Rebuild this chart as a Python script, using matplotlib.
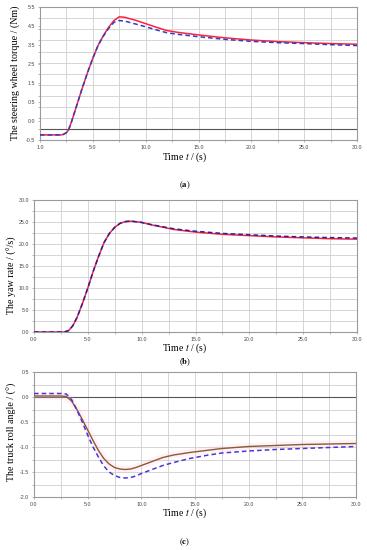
import numpy as np
import matplotlib
matplotlib.use("Agg")
import matplotlib.pyplot as plt

plt.rcParams['mathtext.fontset'] = 'stix'

# ---------------- data ----------------
# Panel (a): steering wheel torque (Nm)
t_a = [0, 2.0, 2.2, 2.5, 2.7, 3.0, 3.3, 3.6, 4.0, 4.5, 5.0, 5.5, 6.0, 6.5, 7.0, 7.5,
       8.0, 9.0, 10.0, 11.0, 12.0, 13.0, 15.0, 17.5, 20.0, 22.5, 25.0, 27.5, 30.0]
torque_red = [-0.27, -0.27, -0.25, -0.17, -0.05, 0.35, 0.8, 1.25, 1.85, 2.55, 3.2, 3.78,
              4.22, 4.6, 4.9, 5.07, 5.05, 4.92, 4.76, 4.6, 4.45, 4.37, 4.25, 4.12, 4.02,
              3.95, 3.9, 3.86, 3.83]
torque_blue = [-0.27, -0.27, -0.25, -0.17, -0.05, 0.35, 0.8, 1.25, 1.85, 2.55, 3.2, 3.78,
               4.2, 4.55, 4.82, 4.9, 4.88, 4.75, 4.62, 4.48, 4.35, 4.28, 4.17, 4.05, 3.96,
               3.9, 3.86, 3.81, 3.77]
ytick_labels_a = ["-0.5", "0.0", "0.5", "1.5", "2.5", "3.5", "4.5", "5.5"]
xtick_labels_a = ["1.0", "5.0", "10.0", "15.0", "20.0", "25.0", "30.0"]

# Panel (b): yaw rate (deg/s)
t_b = [0, 2.8, 3.2, 3.6, 4.0, 4.5, 5.0, 5.5, 6.0, 6.5, 7.0, 7.5, 8.0, 8.5, 9.0, 10.0,
       11.0, 12.0, 13.0, 14.0, 15.0, 17.5, 20.0, 22.5, 25.0, 27.5, 30.0]
yaw_red = [0, 0, 0.3, 1.4, 3.3, 6.5, 10.0, 13.8, 17.2, 20.3, 22.4, 23.8, 24.7, 25.1, 25.2,
           24.9, 24.3, 23.8, 23.3, 23.0, 22.7, 22.2, 21.9, 21.6, 21.4, 21.2, 21.1]
yaw_blue = [0, 0, 0.3, 1.4, 3.3, 6.5, 10.0, 13.8, 17.2, 20.3, 22.4, 23.8, 24.7, 25.1, 25.2,
            24.9, 24.35, 23.9, 23.45, 23.15, 22.9, 22.4, 22.1, 21.8, 21.6, 21.45, 21.35]
ytick_labels_b = ["0.0", "5.0", "10.0", "15.0", "20.0", "25.0", "30.0"]
xtick_labels = ["0.0", "5.0", "10.0", "15.0", "20.0", "25.0", "30.0"]

# Panel (c): truck roll angle (deg)
t_c = [0, 2.5, 3.0, 3.5, 4.0, 4.5, 5.0, 5.5, 6.0, 6.5, 7.0, 7.5, 8.0, 8.5, 9.0, 9.5,
       10.0, 11.0, 12.0, 13.0, 14.5, 16.0, 17.5, 20.0, 22.5, 25.0, 27.5, 30.0]
roll_red = [0.02, 0.02, 0.01, -0.08, -0.25, -0.45, -0.66, -0.87, -1.07, -1.23, -1.34,
            -1.41, -1.44, -1.45, -1.44, -1.41, -1.37, -1.29, -1.21, -1.16, -1.11, -1.07,
            -1.03, -0.99, -0.97, -0.95, -0.94, -0.93]
roll_blue = [0.07, 0.07, 0.06, -0.05, -0.26, -0.5, -0.76, -1.0, -1.2, -1.38, -1.5, -1.57,
             -1.61, -1.62, -1.61, -1.58, -1.53, -1.45, -1.37, -1.31, -1.23, -1.17, -1.12,
             -1.08, -1.05, -1.03, -1.01, -0.99]
ytick_labels_c = ["-2.0", "-1.5", "-1.0", "-0.5", "0.0", "0.5"]

# ---------------- figure ----------------
W, H = 367, 550
fig = plt.figure(figsize=(W / 100, H / 100), dpi=100)

SERIF = ['Liberation Serif', 'DejaVu Serif']
SANS = ['Liberation Sans', 'DejaVu Sans']
GRID = '#cfcfcf'
FRAME = '#9a9a9a'
RED = '#ff2040'
BLUE = '#2c3fc0'
XMAJ = np.arange(0, 30.1, 5)


def px_axes(l, t, r, b):
    return fig.add_axes([l / W, 1 - b / H, (r - l) / W, (b - t) / H])


def style(ax, xlim, ylim, xlabels, yticks, ylabels, yminor):
    ax.set_xticks(XMAJ, xlabels)
    ax.set_xticks(np.arange(0, 30.1, 2.5), minor=True)
    ax.set_yticks(yticks, ylabels)
    ax.set_yticks(yminor, minor=True)
    ax.set_xlim(*xlim)
    ax.set_ylim(*ylim)
    for s in ax.spines.values():
        s.set_color(FRAME)
        s.set_linewidth(0.8)
    ax.tick_params(which='both', length=1.5, width=0.5, color=FRAME, pad=2,
                   labelsize=3.8, labelcolor='#444444')
    ax.grid(True, which='both', color=GRID, linewidth=0.6)
    ax.set_axisbelow(True)
    for lab in ax.get_xticklabels() + ax.get_yticklabels():
        lab.set_family(SANS)


def xlabel(y):
    fig.text(185 / W, 1 - y / H, r'Time $t$ / (s)', fontsize=7.0, family=SERIF,
             ha='center', va='center')


def tag(y, letter):
    fig.text(185 / W, 1 - y / H, r'($\mathbf{%s}$)' % letter, fontsize=6.2, family=SERIF,
             ha='center', va='center')


def ylabel(x, y, text):
    fig.text(x / W, 1 - y / H, text, fontsize=7.2, family=SERIF, rotation=90,
             ha='center', va='center')


# ----- (a) -----
ax = px_axes(40, 7.3, 357, 140)
style(ax, (0, 30), (-0.5, 5.5), xtick_labels_a,
      np.linspace(-0.5, 5.5, len(ytick_labels_a)), ytick_labels_a,
      np.arange(-0.5, 5.51, 0.5))
ax.grid(False, which='major', axis='y')
ax.axhline(0.0, color='#555555', lw=0.8, zorder=1.5)
ax.plot(t_a, torque_red, color=RED, lw=1.1, zorder=3)
ax.plot(t_a, torque_blue, color=BLUE, lw=1.1, ls=(0, (3, 2)), zorder=4)
ylabel(15, 73, 'The steering wheel torque / (Nm)')
xlabel(157)
tag(185, 'a')

# ----- (b) -----
ax = px_axes(34, 200, 357, 332)
style(ax, (0, 30), (0, 30), xtick_labels,
      np.arange(0, 30.1, 5), ytick_labels_b, np.arange(0, 30.1, 2.5))
ax.plot(t_b, yaw_red, color=RED, lw=1.1, zorder=3)
ax.plot(t_b, yaw_blue, color='#24249a', lw=1.1, ls=(0, (3, 2)), zorder=4)
ylabel(12, 275, 'The yaw rate / (°/s)')
xlabel(348)
tag(362, 'b')

# ----- (c) -----
ax = px_axes(34, 372, 356, 497)
style(ax, (0, 30), (-2.0, 0.5), xtick_labels,
      np.arange(-2.0, 0.51, 0.5), ytick_labels_c, np.arange(-2.0, 0.51, 0.25))
ax.axhline(0.0, color='#555555', lw=0.8, zorder=1.5)
ax.plot(t_c, roll_red, color='#ffc0d8', lw=5, alpha=0.22, zorder=2.5,
        solid_capstyle='butt')
ax.plot(t_c, roll_red, color='#8a5a32', lw=1.0, zorder=3)
ax.plot(t_c, roll_blue, color='#4a36d8', lw=1.1, ls=(0, (3, 2)), zorder=4)
ylabel(12, 432, 'The truck roll angle / (°)')
xlabel(513)
tag(542, 'c')

fig.savefig('out.png', dpi=100)
